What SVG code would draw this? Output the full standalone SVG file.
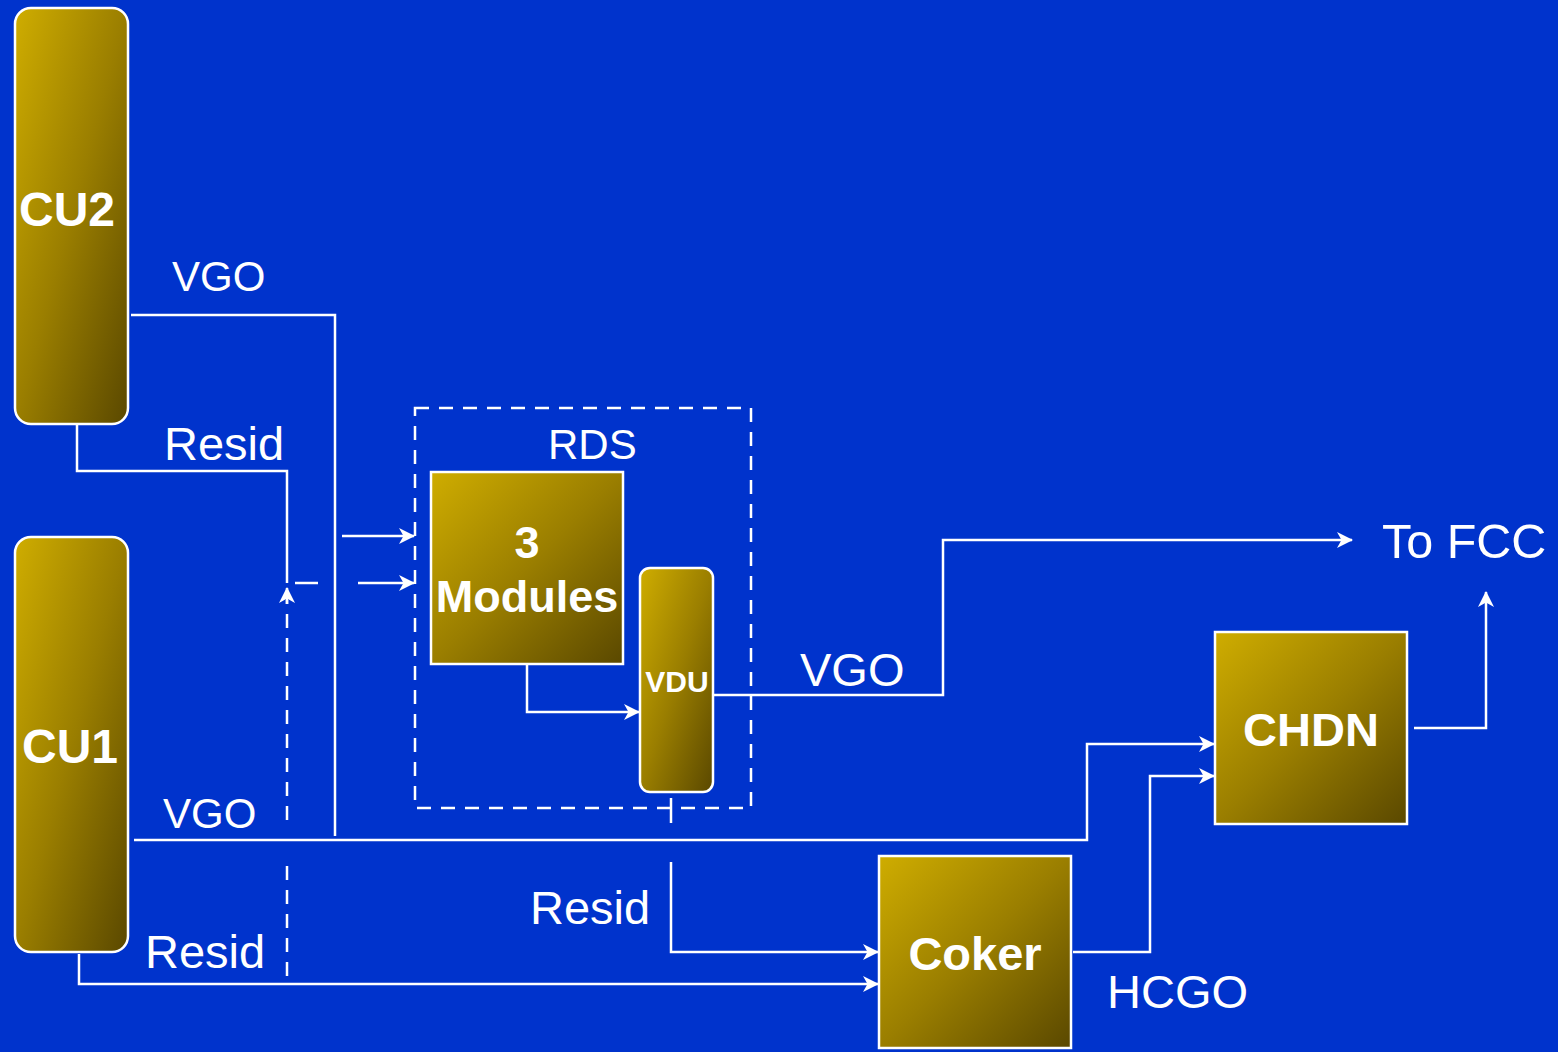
<svg xmlns="http://www.w3.org/2000/svg" width="1558" height="1052" viewBox="0 0 1558 1052">
<defs>
<linearGradient id="gold" x1="0" y1="0" x2="1" y2="1">
<stop offset="0" stop-color="#cfad00"/>
<stop offset="0.5" stop-color="#9a7e00"/>
<stop offset="1" stop-color="#5a4800"/>
</linearGradient>
<marker id="ah" viewBox="0 0 16 16" refX="15" refY="8" markerWidth="16" markerHeight="16" markerUnits="userSpaceOnUse" orient="auto">
<path d="M0,0 L16,8 L0,16 L4.5,8 z" fill="#fff"/>
</marker>
<style>
.box{fill:url(#gold);stroke:#fff;stroke-width:2.5}
.ln{fill:none;stroke:#fff;stroke-width:2.5}
.ar{fill:none;stroke:#fff;stroke-width:2.5;marker-end:url(#ah)}
.dash{fill:none;stroke:#fff;stroke-width:2.5;stroke-dasharray:14 10}
.lbl{font-family:"Liberation Sans",Arial,sans-serif;font-size:47px;fill:#fff}
.bl{font-family:"Liberation Sans",Arial,sans-serif;font-size:47px;font-weight:bold;fill:#fff;text-anchor:middle}
</style>
</defs>
<rect width="1558" height="1052" fill="#0033cc"/>
<g id="connectors">
<polyline class="ln" points="131,315 335,315 335,836"/>
<polyline class="ln" points="77,424 77,471 287,471 287,583"/>
<line class="ln" x1="295" y1="583" x2="318" y2="583"/>
<line class="ar" x1="342" y1="536" x2="414" y2="536"/>
<line class="ar" x1="358" y1="583" x2="414" y2="583"/>
<line class="dash" x1="287" y1="820" x2="287" y2="600"/>
<line class="ar" x1="287" y1="604" x2="287" y2="588"/>
<line class="dash" x1="287" y1="866" x2="287" y2="982"/>
<polyline class="ar" points="134,840 1087,840 1087,744 1214,744"/>
<polyline class="ar" points="79,954 79,984 878,984"/>
<polyline class="ar" points="671,862 671,952 878,952"/>
<line class="ln" x1="671" y1="798" x2="671" y2="823"/>
<polyline class="ar" points="527,664 527,712 639,712"/>
<polyline class="ar" points="714,695 943,695 943,540 1352,540"/>
<polyline class="ar" points="1414,728 1486,728 1486,592"/>
<polyline class="ar" points="1073,952 1150,952 1150,776 1214,776"/>
</g>
<g id="RDS">
<rect x="415" y="408" width="336" height="400" fill="none" stroke="#fff" stroke-width="2.5" stroke-dasharray="14 10"/>
<text class="lbl" x="548" y="459" style="font-size:42px">RDS</text>
</g>
<g id="CU2">
<rect class="box" x="15" y="8" width="113" height="416" rx="16"/>
<text class="bl" x="67" y="226" style="font-size:48px">CU2</text>
</g>
<g id="CU1">
<rect class="box" x="15" y="537" width="113" height="415" rx="16"/>
<text class="bl" x="70" y="763" style="font-size:48px">CU1</text>
</g>
<g id="modules">
<rect class="box" x="431" y="472" width="192" height="192"/>
<text class="bl" x="527" y="558" style="font-size:45px">3</text>
<text class="bl" x="527" y="612" style="font-size:45px">Modules</text>
</g>
<g id="VDU">
<rect class="box" x="640" y="568" width="73" height="224" rx="10"/>
<text class="bl" x="677" y="692" style="font-size:30px">VDU</text>
</g>
<g id="CHDN">
<rect class="box" x="1215" y="632" width="192" height="192"/>
<text class="bl" x="1311" y="746">CHDN</text>
</g>
<g id="Coker">
<rect class="box" x="879" y="856" width="192" height="192"/>
<text class="bl" x="975" y="970">Coker</text>
</g>
<g id="labels">
<text class="lbl" x="172" y="291" style="font-size:42px">VGO</text>
<text class="lbl" x="164" y="460">Resid</text>
<text class="lbl" x="800" y="686">VGO</text>
<text class="lbl" x="1382" y="558" style="font-size:48.5px">To FCC</text>
<text class="lbl" x="163" y="828" style="font-size:42px">VGO</text>
<text class="lbl" x="530" y="924">Resid</text>
<text class="lbl" x="145" y="968">Resid</text>
<text class="lbl" x="1107" y="1008">HCGO</text>
</g>
</svg>
